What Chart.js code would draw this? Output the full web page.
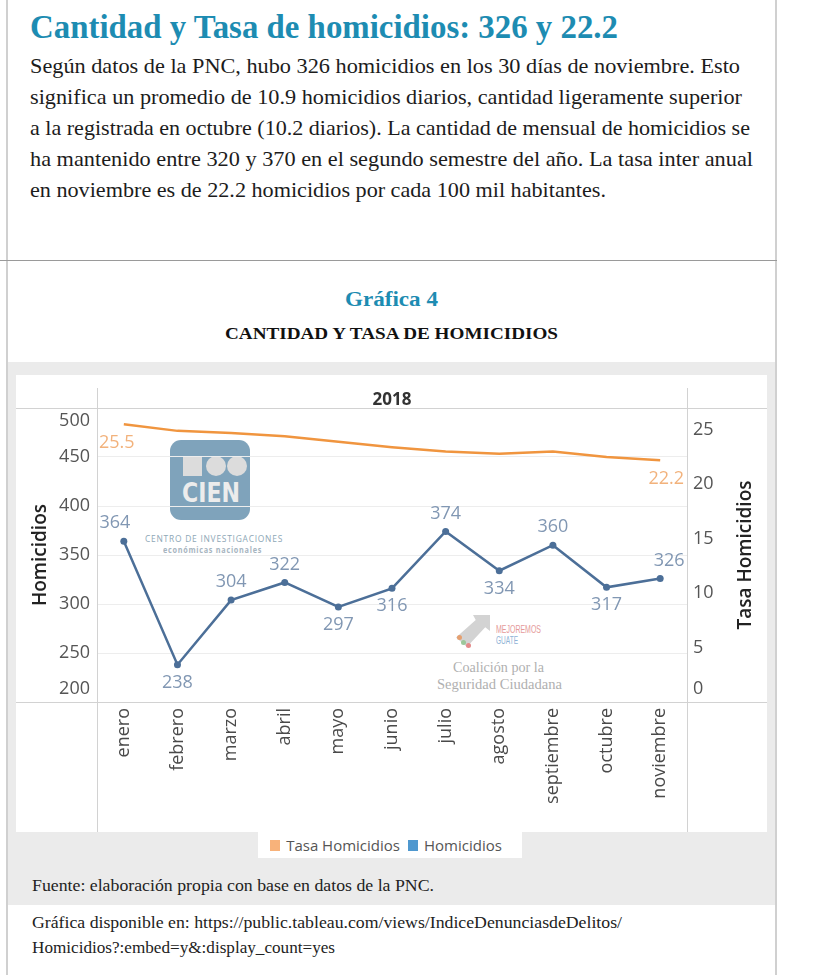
<!DOCTYPE html>
<html>
<head>
<meta charset="utf-8">
<script src="https://cdn.jsdelivr.net/npm/chart.js@4"></script>
<style>
  body { margin: 0; background: #fff; }
  #page { position: relative; width: 813px; height: 975px; overflow: hidden; font-family: "Liberation Serif", serif; }
  .abs { position: absolute; }
  .t { position: absolute; white-space: nowrap; transform-origin: 0 0; display: inline-block; }
  .teal { color: #1d8cb2; font-weight: bold; }
  .para { font-size: 21px; line-height: 31px; color: #1c1c1c; }
  .foot { font-size: 16px; line-height: 20px; color: #222; }
  #box { position: absolute; left: 16px; top: 375px; width: 751px; height: 457px; background: #fff; }
  #chart { position: absolute; left: 0; top: 0; }
  #legend { position: absolute; left: 258px; top: 832px; width: 264px; height: 26px; background: #fff;
            display: flex; align-items: center; justify-content: center; font-family: "Open Sans", sans-serif;
            font-size: 15px; color: #555; }
  #legend span.sw { display: inline-block; width: 10px; height: 11px; margin: 0 6px 0 0; }
  #legend span.lb { margin-right: 8px; }
</style>
</head>
<body>
<div id="page">
  <div class="abs" style="left:6px;top:0;width:2px;height:975px;background:#d0d0d0"></div>
  <div class="abs" style="left:775px;top:0;width:2px;height:975px;background:#d0d0d0"></div>

  <div class="t teal" data-w="588" style="left:30px;top:7px;font-size:33px;line-height:40px">Cantidad y Tasa de homicidios: 326 y 22.2</div>
  <div class="t para" data-w="710" style="left:30px;top:51px">Según datos de la PNC, hubo 326 homicidios en los 30 días de noviembre. Esto</div>
  <div class="t para" data-w="712" style="left:30px;top:82px">significa un promedio de 10.9 homicidios diarios, cantidad ligeramente superior</div>
  <div class="t para" data-w="720" style="left:30px;top:113px">a la registrada en octubre (10.2 diarios). La cantidad de mensual de homicidios se</div>
  <div class="t para" data-w="723" style="left:30px;top:144px">ha mantenido entre 320 y 370 en el segundo semestre del año. La tasa inter anual</div>
  <div class="t para" data-w="576" style="left:30px;top:175px">en noviembre es de 22.2 homicidios por cada 100 mil habitantes.</div>

  <div class="abs" style="left:0;top:260px;width:777px;height:1px;background:#9a9a9a"></div>

  <div class="t teal" data-w="93" style="left:345px;top:287px;font-size:20px;line-height:24px">Gráfica 4</div>
  <div class="t" data-w="333" style="left:225px;top:324px;font-size:16px;line-height:20px;font-weight:bold;color:#111">CANTIDAD Y TASA DE HOMICIDIOS</div>

  <div class="abs" style="left:8px;top:362px;width:767px;height:543px;background:#ebebeb"></div>

  <div id="box">
    <!-- watermark: CIEN -->
    <div class="abs" style="left:154px;top:65px;width:80px;height:80px;border-radius:11px;background:#7fa3bb">
      <div class="abs" style="left:13px;top:17px;width:19px;height:19px;background:#dcdcdc"></div>
      <div class="abs" style="left:36px;top:16px;width:20px;height:20px;border-radius:50%;background:#dcdcdc"></div>
      <div class="abs" style="left:57px;top:16px;width:20px;height:20px;border-radius:50%;background:#dcdcdc"></div>
      <div class="t" data-w="58" style="left:12px;top:40px;font-family:'DejaVu Sans',sans-serif;font-weight:bold;font-size:26px;line-height:26px;color:#ececec">CIEN</div>
    </div>
    <div class="t" data-w="138" style="left:129px;top:159px;font-family:'Open Sans',sans-serif;font-size:9px;line-height:10px;letter-spacing:0.8px;color:#8ea7b6">CENTRO DE INVESTIGACIONES</div>
    <div class="t" data-w="99" style="left:147px;top:170px;font-family:'Open Sans',sans-serif;font-weight:bold;font-size:8px;line-height:10px;letter-spacing:0.8px;color:#a7b5bf">económicas nacionales</div>
    <!-- watermark: Mejoremos Guate -->
    <div class="abs" style="left:440px;top:240px;width:34px;height:32px;background:#d3d3d3;clip-path:polygon(50% 0,100% 0,100% 50%,86% 38%,32% 100%,0 70%,58% 16%)"></div>
    <div class="abs" style="left:441px;top:260px;width:5px;height:5px;border-radius:50%;background:#e6a070"></div>
    <div class="abs" style="left:445px;top:265px;width:5px;height:5px;border-radius:50%;background:#9cc79a"></div>
    <div class="abs" style="left:450px;top:268px;width:5px;height:5px;border-radius:50%;background:#e58a8a"></div>
    <div class="t" data-w="45" style="left:480px;top:249px;font-family:'Liberation Sans',sans-serif;font-size:11px;line-height:11px;color:#e59a9a">MEJOREMOS</div>
    <div class="t" data-w="22" style="left:480px;top:260px;font-family:'Liberation Sans',sans-serif;font-size:11px;line-height:11px;color:#8fb3d6">GUATE</div>
    <div class="t" data-w="91" style="left:437px;top:284px;font-size:15px;line-height:16px;color:#b0b0b0">Coalición por la</div>
    <div class="t" data-w="125" style="left:421px;top:301px;font-size:15px;line-height:16px;color:#b0b0b0">Seguridad Ciudadana</div>

    <canvas id="chart" width="751" height="457"></canvas>
  </div>

  <div id="legend"></div>

  <div class="t foot" data-w="402" style="left:32px;top:876px">Fuente: elaboración propia con base en datos de la PNC.</div>
  <div class="t foot" data-w="590" style="left:32px;top:913px">Gráfica disponible en: https://public.tableau.com/views/IndiceDenunciasdeDelitos/</div>
  <div class="t foot" data-w="303" style="left:32px;top:938px">Homicidios?:embed=y&amp;:display_count=yes</div>
</div>

<script>
// data
const anio = '2018';
const meses = ['enero', 'febrero', 'marzo', 'abril', 'mayo', 'junio', 'julio', 'agosto', 'septiembre', 'octubre', 'noviembre'];
const homicidios = [364, 238, 304, 322, 297, 316, 374, 334, 360, 317, 326];
const tasaHomicidios = [25.5, 24.9, 24.7, 24.4, 23.9, 23.4, 23.0, 22.8, 23.0, 22.5, 22.2];
const ticksHomicidios = [200, 250, 300, 350, 400, 450, 500];
const ticksTasa = [0, 5, 10, 15, 20, 25];
const seriesNames = ['Tasa Homicidios', 'Homicidios'];

// styles
const lineColors = ['#f0953f', '#4c6f98'];
const legendColors = ['#f8b27a', '#4f98cf'];
const homLabelSide = ['up', 'down', 'up', 'up', 'down', 'down', 'up', 'down', 'up', 'down', 'up'];
const FONT = '"Open Sans", sans-serif';

// squeeze text lines to the widths seen in the picture
document.querySelectorAll('[data-w]').forEach(el => {
  const w = el.getBoundingClientRect().width;
  el.style.transform = 'scaleX(' + (parseFloat(el.dataset.w) / w) + ')';
});

// legend
const legend = document.getElementById('legend');
seriesNames.forEach((name, i) => {
  legend.insertAdjacentHTML('beforeend',
    '<span class="sw" style="background:' + legendColors[i] + '"></span><span class="lb">' + name + '</span>');
});

// like Tableau, keep the end tick labels inside the pane
const edgeLabels = {
  id: 'edgeLabels',
  beforeDraw(chart) {
    const min = chart.scales.y.getLabelItems();
    min[0].options.translation[1] -= 13;
    min[min.length - 1].options.translation[1] += 13;
    const r = chart.scales.y1.getLabelItems();
    r[0].options.translation[1] -= 13;
  }
};

const panePlugin = {
  id: 'pane',
  beforeDatasetsDraw(chart) {
    const { ctx, chartArea: a, width, height } = chart;
    ctx.save();
    ctx.strokeStyle = '#d2d2d2';
    ctx.lineWidth = 1;
    ctx.beginPath();
    ctx.moveTo(0, Math.round(a.top) + 0.5); ctx.lineTo(width, Math.round(a.top) + 0.5);
    ctx.moveTo(0, Math.round(a.bottom) + 0.5); ctx.lineTo(width, Math.round(a.bottom) + 0.5);
    ctx.moveTo(Math.round(a.left) + 0.5, 13); ctx.lineTo(Math.round(a.left) + 0.5, height);
    ctx.moveTo(Math.round(a.right) + 0.5, 13); ctx.lineTo(Math.round(a.right) + 0.5, height);
    ctx.stroke();
    ctx.restore();
  },
  afterDraw(chart) {
    const { ctx, chartArea: a, width } = chart;
    ctx.save();
    ctx.fillStyle = '#333';
    ctx.font = 'bold 17px ' + FONT;
    ctx.textAlign = 'center';
    ctx.textBaseline = 'middle';
    ctx.fillText(anio, (a.left + a.right) / 2, a.top - 8);
    // right axis title, read bottom to top
    ctx.fillStyle = '#222';
    ctx.font = '600 19px ' + FONT;
    ctx.translate(width - 21, (a.top + a.bottom) / 2);
    ctx.rotate(-Math.PI / 2);
    ctx.fillText(seriesNames[0], 0, 0);
    ctx.restore();
  }
};

const labelPlugin = {
  id: 'pointLabels',
  afterDatasetsDraw(chart) {
    const ctx = chart.ctx;
    ctx.save();
    ctx.font = '18px ' + FONT;
    ctx.textAlign = 'center';
    ctx.textBaseline = 'middle';
    const hm = chart.getDatasetMeta(1).data;
    ctx.fillStyle = '#8197b3';
    hm.forEach((p, i) => {
      const dy = homLabelSide[i] === 'up' ? -18 : 18;
      const dx = i === 0 ? -9 : (i === hm.length - 1 ? 9 : 0);
      ctx.fillText(String(homicidios[i]), p.x + dx, p.y + dy);
    });
    const tm = chart.getDatasetMeta(0).data;
    ctx.fillStyle = '#f2b27c';
    [0, tm.length - 1].forEach(i => {
      const dx = i === 0 ? -7 : 6;
      ctx.fillText(tasaHomicidios[i].toFixed(1), tm[i].x + dx, tm[i].y + 19);
    });
    ctx.restore();
  }
};

new Chart(document.getElementById('chart').getContext('2d'), {
  type: 'line',
  data: {
    labels: meses,
    datasets: [
      {
        label: seriesNames[0],
        data: tasaHomicidios,
        yAxisID: 'y1',
        borderColor: lineColors[0],
        backgroundColor: lineColors[0],
        borderWidth: 2.5,
        pointRadius: 0,
        tension: 0
      },
      {
        label: seriesNames[1],
        data: homicidios,
        yAxisID: 'y',
        borderColor: lineColors[1],
        backgroundColor: lineColors[1],
        borderWidth: 2.5,
        pointRadius: 3.5,
        pointBorderWidth: 0,
        tension: 0
      }
    ]
  },
  options: {
    responsive: false,
    animation: false,
    layout: { padding: { top: 33 } },
    plugins: {
      legend: { display: false },
      tooltip: { enabled: false }
    },
    scales: {
      x: {
        offset: true,
        grid: { display: false, drawTicks: false },
        border: { display: false },
        ticks: {
          autoSkip: false, minRotation: 90, maxRotation: 90, padding: 6,
          color: '#4a4a4a', font: { family: FONT, size: 18 }
        },
        afterFit(s) { s.height = 130; }
      },
      y: {
        position: 'left',
        min: 200, max: 500,
        afterBuildTicks(s) { s.ticks = ticksHomicidios.map(v => ({ value: v })); },
        grid: { color: '#ededed', drawTicks: false },
        border: { display: false },
        ticks: { padding: 7, color: '#555', font: { family: FONT, size: 18 } },
        title: {
          display: true, text: seriesNames[1], color: '#222',
          font: { family: FONT, size: 19, weight: '600' }, padding: { top: 13, bottom: 0 }
        },
        afterFit(s) { s.width = 81; }
      },
      y1: {
        position: 'right',
        min: 0, max: 27,
        afterBuildTicks(s) { s.ticks = ticksTasa.map(v => ({ value: v })); },
        grid: { display: false, drawTicks: false },
        border: { display: false },
        ticks: { padding: 6, color: '#555', font: { family: FONT, size: 18 } },
        afterFit(s) { s.width = 80; }
      }
    }
  },
  plugins: [edgeLabels, panePlugin, labelPlugin]
});
</script>
</body>
</html>
